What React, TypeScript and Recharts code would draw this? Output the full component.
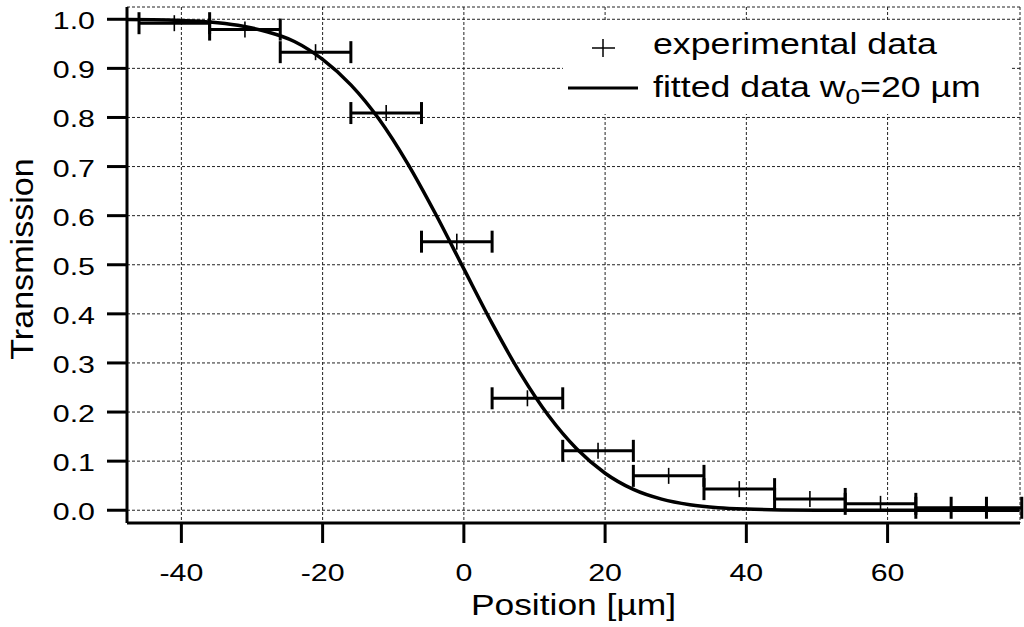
import { ComposedChart, Line, Scatter, ErrorBar, XAxis, YAxis, CartesianGrid, Customized } from 'recharts'

const FONT = '"Liberation Sans", Arial, sans-serif'

// measured points (position in µm, transmission, half-width of the position bin)
const positions = [-41, -31, -21, -11, -1, 9, 19, 29, 39, 49, 59, 69, 74]
const transmission = [0.992, 0.979, 0.933, 0.809, 0.547, 0.228, 0.121, 0.07, 0.043, 0.023, 0.013, 0.005, 0.005]
const positionError = [5, 5, 5, 5, 5, 5, 5, 5, 5, 5, 5, 5, 5]

// fitted curve
const fitPositions = [-47.7, -44, -40, -36, -32, -28, -24, -20, -16, -12, -8, -4, 0, 4, 8, 12, 16, 20, 24, 28, 32, 36, 40, 45, 50, 60, 70, 78.7]
const fitTransmission = [0.9995, 0.999, 0.9974, 0.9945, 0.9877, 0.9751, 0.9548, 0.9182, 0.8663, 0.7962, 0.707, 0.6033, 0.4915, 0.3805, 0.2787, 0.1923, 0.1246, 0.0754, 0.0424, 0.0226, 0.0112, 0.0052, 0.0023, 0.0007, 0.0002, 0, 0, 0]

const xTicks = [-40, -20, 0, 20, 40, 60]
const yTicks = [0, 0.1, 0.2, 0.3, 0.4, 0.5, 0.6, 0.7, 0.8, 0.9, 1.0]

const expData = positions.map((x, i) => ({ x, y: transmission[i], xerr: positionError[i] }))
const fitData = fitPositions.map((x, i) => ({ x, y: fitTransmission[i] }))

const XTick = (props: any) => {
  const { x, y, payload } = props
  return (
    <g transform={`translate(${x},${y + 38})`}>
      <text transform="scale(1.32,1)" textAnchor="middle" fontSize={23} fontFamily={FONT} fill="#000">
        {payload.value}
      </text>
    </g>
  )
}

const YTick = (props: any) => {
  const { x, y, payload } = props
  return (
    <g transform={`translate(${x - 12},${y + 10})`}>
      <text transform="scale(1.32,1)" textAnchor="end" fontSize={23} fontFamily={FONT} fill="#000">
        {Number(payload.value).toFixed(1)}
      </text>
    </g>
  )
}

const PlusShape = (props: any) => {
  const { cx, cy } = props
  return <line x1={cx} y1={cy - 8} x2={cx} y2={cy + 8} stroke="#000" strokeWidth={1.6} />
}

const XTitle = (props: any) => {
  const { viewBox } = props
  const cx = viewBox.x + viewBox.width / 2
  return (
    <g transform={`translate(${cx},615)`}>
      <text transform="scale(1.18,1)" textAnchor="middle" fontSize={30} fontFamily={FONT} fill="#000">
        Position [µm]
      </text>
    </g>
  )
}

const YTitle = (props: any) => {
  const { viewBox } = props
  const cy = viewBox.y + viewBox.height / 2 - 6
  return (
    <g transform={`translate(33,${cy}) rotate(-90)`}>
      <text transform="scale(1.1,1)" textAnchor="middle" fontSize={31} fontFamily={FONT} fill="#000">
        Transmission
      </text>
    </g>
  )
}

const LegendBox = () => (
  <g>
    <rect x={563} y={22} width={449} height={92} fill="#fff" />
    <line x1={603} y1={39} x2={603} y2={57} stroke="#000" strokeWidth={1.5} />
    <line x1={592} y1={48} x2={615} y2={48} stroke="#000" strokeWidth={1.5} />
    <line x1={568} y1={88} x2={638} y2={88} stroke="#000" strokeWidth={3} />
    <g transform="translate(653,54) scale(1.19,1)">
      <text fontSize={30} fontFamily={FONT} fill="#000">experimental data</text>
    </g>
    <g transform="translate(653,97) scale(1.19,1)">
      <text fontSize={30} fontFamily={FONT} fill="#000">
        fitted data w<tspan fontSize={22} dy={7}>0</tspan>
        <tspan dy={-7}>=20 µm</tspan>
      </text>
    </g>
  </g>
)

export default function App() {
  return (
    <div style={{ position: 'absolute', left: 0, top: 0, background: '#fff' }}>
      <ComposedChart width={1024} height={627} margin={{ top: 7, right: 4, bottom: 0, left: 0 }}>
        <CartesianGrid stroke="#222" strokeDasharray="3 2" strokeWidth={1} />
        <XAxis
          dataKey="x"
          type="number"
          domain={[-47.7, 78.75]}
          allowDataOverflow
          ticks={xTicks}
          height={104}
          tickSize={20}
          tickMargin={0}
          axisLine={{ stroke: '#000', strokeWidth: 3 }}
          tickLine={{ stroke: '#000', strokeWidth: 3 }}
          tick={<XTick />}
          label={{ content: <XTitle /> }}
        />
        <XAxis
          xAxisId="top"
          orientation="top"
          type="number"
          domain={[-47.7, 78.75]}
          height={0}
          tick={false}
          tickLine={false}
          axisLine={{ stroke: '#000', strokeWidth: 3 }}
        />
        <YAxis
          dataKey="y"
          type="number"
          domain={[-0.026, 1.025]}
          allowDataOverflow
          ticks={yTicks}
          width={127}
          tickSize={20}
          tickMargin={0}
          axisLine={{ stroke: '#000', strokeWidth: 3 }}
          tickLine={{ stroke: '#000', strokeWidth: 3 }}
          tick={<YTick />}
          label={{ content: <YTitle /> }}
        />
        <Customized component={LegendBox} />
        <Line
          data={fitData}
          dataKey="y"
          type="monotone"
          stroke="#000"
          strokeWidth={3.5}
          dot={false}
          activeDot={false}
          isAnimationActive={false}
        />
        <Scatter data={expData} dataKey="y" shape={<PlusShape />} isAnimationActive={false}>
          <ErrorBar dataKey="xerr" direction="x" width={11} stroke="#000" strokeWidth={3} isAnimationActive={false} />
        </Scatter>
      </ComposedChart>
    </div>
  )
}
